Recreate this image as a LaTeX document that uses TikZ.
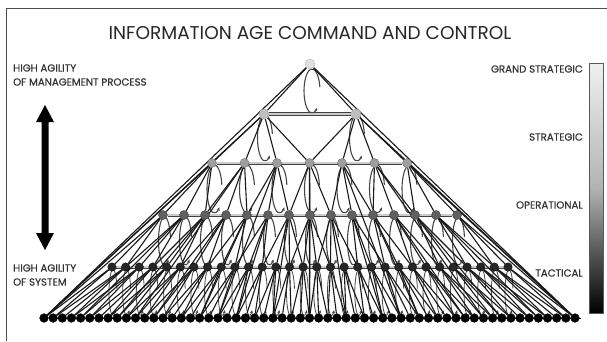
\documentclass[tikz,border=0pt]{standalone}
\usepackage{fontspec}
\setmainfont{Poppins}
\newfontfamily\labfont[FakeBold=0.6]{Poppins}
\usetikzlibrary{arrows.meta,calc}
\pgfdeclarelayer{bg}
\pgfsetlayers{bg,main}
\begin{document}
\begin{tikzpicture}[x=1pt,y=1pt,
  lvl0/.style={circle, inner sep=0pt, minimum size=10pt, fill=gray!25, draw=gray!55, line width=0.4pt},
  lvl1/.style={circle, inner sep=0pt, minimum size=10pt, fill=gray!50, draw=gray!75, line width=0.4pt},
  lvl2/.style={circle, inner sep=0pt, minimum size=9pt, fill=gray!75, draw=gray!85!black, line width=0.4pt},
  lvl3/.style={circle, inner sep=0pt, minimum size=9pt, fill=gray!75!black, draw=black!75, line width=0.4pt},
  lvl4/.style={circle, inner sep=0pt, minimum size=8.5pt, fill=black!85, draw=black, line width=0.3pt},
  lvl5/.style={circle, inner sep=0pt, minimum size=8.8pt, fill=black, draw=black, line width=0.3pt},
  edge/.style={black!90, line width=1.1pt},
  bar/.style={draw=gray!50!black, double=gray!40, double distance=1.6pt, line width=0.7pt},
  loopc/.style={gray!55!black, line width=1.1pt, -{Stealth[length=3.4pt,width=3pt]}},
  lab/.style={font=\labfont\fontsize{10.2}{12}\selectfont, text=black!80, inner sep=0pt},
  ttl/.style={font=\fontsize{18.5}{20}\selectfont, text=black!85, inner sep=0pt},
]
\useasboundingbox (0,0) rectangle (607,-341);
% frame
\draw[gray!60!black, line width=0.8pt] (6,-341) -- (6,-8) -- (607,-8);
% title
\node[ttl] (title) at (310,-33) {INFORMATION AGE COMMAND AND CONTROL};
% left labels
\node[lab, anchor=west] (l1) at (13,-68) {HIGH AGILITY};
\node[lab, anchor=west] (l2) at (13,-82) {OF MANAGEMENT PROCESS};
\node[lab, anchor=west] (l3) at (13,-268) {HIGH AGILITY};
\node[lab, anchor=west] (l4) at (13,-282) {OF SYSTEM};
% double arrow
\fill[black] (45,-105) -- (54,-122) -- (48.5,-122) -- (48.5,-233) -- (54,-233) -- (45,-250)
  -- (36,-233) -- (41.5,-233) -- (41.5,-122) -- (36,-122) -- cycle;
% right labels
\node[lab, anchor=east] (r1) at (583,-69) {GRAND STRATEGIC};
\node[lab, anchor=east] (r2) at (583,-137) {STRATEGIC};
\node[lab, anchor=east] (r3) at (583,-205) {OPERATIONAL};
\node[lab, anchor=east] (r4) at (583,-273) {TACTICAL};
% gradient bar
\shade[top color=gray!12, bottom color=black, middle color=gray!60] (589,-63) rectangle (603,-313);
\draw[gray!70!black, line width=0.5pt] (589,-63) rectangle (603,-313);
% nodes
\node[lvl0] (n-0-0) at (310,-64) {};
\foreach \i in {0,1} {\pgfmathsetmacro\xx{264+92*\i}\node[lvl1] (n-1-\i) at (\xx,-114) {};}
\foreach \i in {0,...,6} {\pgfmathsetmacro\xx{212+32.5*\i}\node[lvl2] (n-2-\i) at (\xx,-163) {};}
\foreach \i in {0,...,14} {\pgfmathsetmacro\xx{163+21*\i}\node[lvl3] (n-3-\i) at (\xx,-215) {};}
\foreach \i in {0,...,29} {\pgfmathsetmacro\xx{112+396/29*\i}\node[lvl4] (n-4-\i) at (\xx,-267) {};}
\foreach \i in {0,...,58} {\pgfmathsetmacro\xx{44+531/58*\i}\node[lvl5] (n-5-\i) at (\xx,-318) {};}
\begin{pgfonlayer}{bg}
% bars
\draw[bar, line width=0.8pt, double distance=2.2pt] (n-1-0) -- (n-1-1);
\draw[bar] (n-2-0) -- (n-2-6);
\draw[bar] (n-3-0) -- (n-3-14);
\draw[bar] (n-4-0) -- (n-4-29);
\draw[black, line width=0.8pt] (n-5-0) -- ($(n-5-58)+(6,0)$);
% ovals
\draw[loopc] ($(n-0-0)+(2,-27)$) ++(10:8pt and 22pt) arc[start angle=10, end angle=310, x radius=8pt, y radius=22pt];
\foreach \i in {0,1} {\draw[loopc] ($(n-1-\i)+(1,-24)$) ++(10:7.5pt and 23pt) arc[start angle=10, end angle=310, x radius=7.5pt, y radius=23pt];}
\foreach \i in {0,...,6} {\draw[loopc] ($(n-2-\i)+(2.5,-26)$) ++(10:7.5pt and 24pt) arc[start angle=10, end angle=310, x radius=7.5pt, y radius=24pt];}
\foreach \i in {0,...,14} {\draw[loopc] ($(n-3-\i)+(1.5,-26)$) ++(10:6pt and 24pt) arc[start angle=10, end angle=310, x radius=6pt, y radius=24pt];}
\foreach \i in {0,...,29} {\draw[loopc, line width=0.8pt] ($(n-4-\i)+(1,-25.5)$) ++(10:4pt and 23pt) arc[start angle=10, end angle=310, x radius=4pt, y radius=23pt];}
% edges L0
\draw[edge] (n-0-0) -- (n-1-0);
\draw[edge] (n-0-0) -- (n-1-1);
\draw[edge] (n-0-0) -- (n-5-0);
\draw[edge] (n-0-0) -- (n-5-58);
% L1
\foreach \j in {0,1} {\foreach \k in {0,...,3} {\pgfmathtruncatemacro\c{3*\j+\k}\draw[edge] (n-1-\j) -- (n-2-\c);}}
\draw[edge] (n-1-0) -- (n-5-0);
\draw[edge] (n-1-1) -- (n-5-58);
% L2
\foreach \i in {0,...,6} {
  \foreach \k in {0,1,2} {\pgfmathtruncatemacro\c{2*\i+\k}\draw[edge] (n-2-\i) -- (n-3-\c);}
  \pgfmathtruncatemacro\b{round(58*\i/6)}\draw[edge] (n-2-\i) -- (n-5-\b);
}
% L3
\foreach \i in {0,...,14} {
  \pgfmathtruncatemacro\lo{max(0,ceil(29*\i/14-1.6))}
  \pgfmathtruncatemacro\hi{min(29,floor(29*\i/14+1.6))}
  \foreach \j in {\lo,...,\hi} {\draw[edge] (n-3-\i) -- (n-4-\j);}
  \pgfmathtruncatemacro\b{round(58*\i/14)}\draw[edge] (n-3-\i) -- (n-5-\b);
}
% L4
\foreach \i in {0,...,29} {
  \pgfmathtruncatemacro\lo{max(0,2*\i-1)}
  \pgfmathtruncatemacro\hi{min(58,2*\i+1)}
  \foreach \j in {\lo,...,\hi} {\draw[edge] (n-4-\i) -- (n-5-\j);}
}
\end{pgfonlayer}
\end{tikzpicture}
\end{document}
